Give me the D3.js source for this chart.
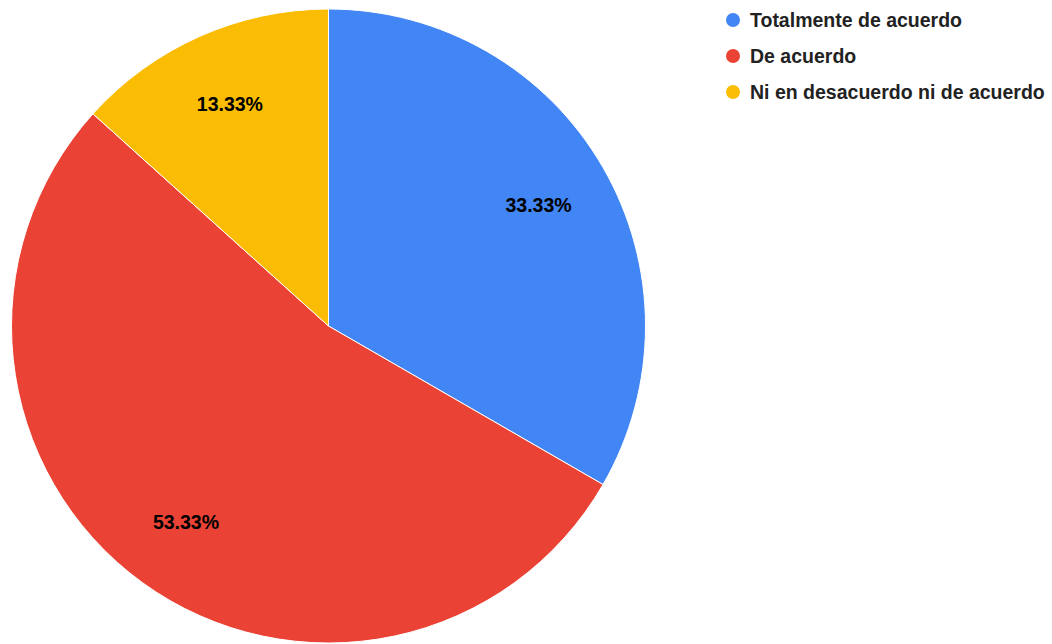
<!DOCTYPE html>
<html>
<head>
<meta charset="utf-8">
<script src="https://cdn.jsdelivr.net/npm/d3@7"></script>
<style>
  html, body { margin: 0; padding: 0; background: #fff; }
  svg { display: block; font-family: "Liberation Sans", Arial, sans-serif; }
</style>
</head>
<body>
<svg id="chart" width="1052" height="644"></svg>
<script>
// Survey answers (share of responses, %)
const categories = ["Totalmente de acuerdo", "De acuerdo", "Ni en desacuerdo ni de acuerdo"];
const values = [33.33, 53.33, 13.33];
const colors = ["#4285F4", "#EA4335", "#FBBC04"];

const svg = d3.select("#chart");
const cx = 328.5, cy = 326, radius = 317;

const pie = d3.pie().sort(null).value(d => d.value);
const arcs = pie(categories.map((c, i) => ({ name: c, value: values[i], color: colors[i] })));

const arc = d3.arc().innerRadius(0).outerRadius(radius);
const labelArc = d3.arc().innerRadius(radius * 0.765).outerRadius(radius * 0.765);

const g = svg.append("g").attr("transform", `translate(${cx},${cy})`);

g.selectAll("path.slice")
  .data(arcs)
  .join("path")
  .attr("class", "slice")
  .attr("d", arc)
  .attr("fill", d => d.data.color)
  .attr("stroke", "#fff")
  .attr("stroke-width", 1);

g.selectAll("text.pct")
  .data(arcs)
  .join("text")
  .attr("class", "pct")
  .attr("transform", d => `translate(${labelArc.centroid(d)})`)
  .attr("text-anchor", "middle")
  .attr("dy", "0.36em")
  .attr("font-size", 19.5)
  .attr("font-weight", "bold")
  .attr("fill", "#000")
  .text(d => d.data.value.toFixed(2) + "%");

// Legend
const legend = svg.append("g").attr("transform", "translate(733,20)");
const item = legend.selectAll("g")
  .data(categories)
  .join("g")
  .attr("transform", (d, i) => `translate(0,${i * 36})`);

item.append("circle")
  .attr("r", 7)
  .attr("fill", (d, i) => colors[i]);

item.append("text")
  .attr("x", 17)
  .attr("dy", "0.36em")
  .attr("font-size", 19.5)
  .attr("font-weight", "bold")
  .attr("fill", "#222")
  .text(d => d);
</script>
</body>
</html>
